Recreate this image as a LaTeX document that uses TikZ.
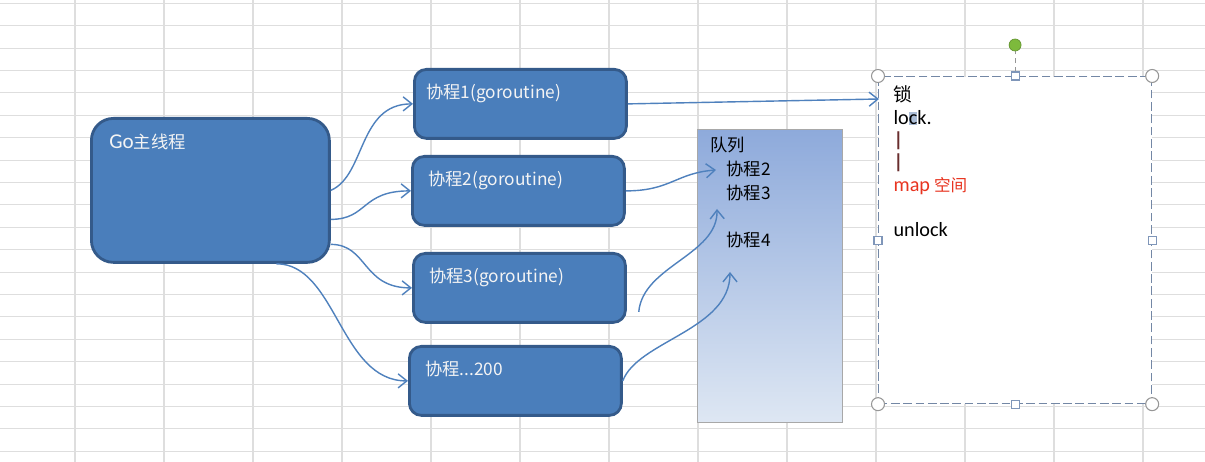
\documentclass[tikz,border=0pt]{standalone}
\definecolor{boxblue}{RGB}{74, 126, 187}
\definecolor{boxedge}{RGB}{52, 90, 138}
\definecolor{linkblue}{RGB}{79, 129, 189}
\definecolor{boxtext}{RGB}{244, 244, 244}
\definecolor{queuetop}{RGB}{142, 170, 219}
\definecolor{queuebottom}{RGB}{222, 231, 243}
\definecolor{queueedge}{RGB}{168, 168, 168}
\definecolor{lockedge}{RGB}{115, 135, 165}
\definecolor{gridgray}{RGB}{222, 222, 222}
\definecolor{mapred}{RGB}{232, 52, 32}
\definecolor{barred}{RGB}{105, 45, 45}
\definecolor{handlegray}{RGB}{150, 150, 150}
\definecolor{gripblue}{RGB}{127, 150, 185}
\definecolor{rotgreen}{RGB}{125, 186, 60}
\definecolor{selblue}{RGB}{172, 190, 215}
\usepackage{fontspec}
\setmainfont{Carlito}
\newfontfamily\cjk[Scale=0.82]{Noto Sans CJK SC}
\usepackage{tikz}
\usetikzlibrary{arrows.meta, positioning}
\tikzset{
  task/.style={draw=boxedge, fill=boxblue, line width=1.6pt, rounded corners=0.24cm, anchor=north west,
    inner xsep=0.24cm, inner ysep=0pt, text=boxtext, align=left, text width=3.76cm,
    text height=0.58cm, text depth=0.8cm, font=\fontsize{12}{14}\selectfont},
  link/.style={draw=linkblue, line width=0.8pt, -{Straight Barb[length=5pt,width=8pt]}},
  grid line/.style={draw=gridgray, line width=0.6pt},
  handle/.style={draw=handlegray, fill=white, line width=0.6pt},
  grip/.style={draw=gripblue, fill=white, line width=0.6pt}
}

\begin{document}
\begin{tikzpicture}[x=0.02cm, y=-0.02cm]
  \useasboundingbox (0,0) rectangle (1205,462);
  \fill[white] (0,0) rectangle (1205,462);
  \foreach \gx in {75,164,...,1143} \draw[grid line] (\gx,0) -- (\gx,462);
  \foreach \gy in {3.3,25.7,...,462} \draw[grid line] (0,\gy) -- (1205,\gy);

  \node[task, rounded corners=0.44cm, inner xsep=0.36cm, text width=4.04cm, text height=0.6cm, text depth=2.28cm] (main) at (90,117) {Go\cjk{主线程}};
  \node[task] (co1) at (413,68) {\cjk{协程}1(goroutine)};
  \node[task, inner xsep=0.32cm, text width=3.6cm] (co2) at (411,155) {\cjk{协程}2(goroutine)};
  \node[task, inner xsep=0.32cm, text width=3.6cm] (co3) at (412,252) {\cjk{协程}3(goroutine)};
  \node[task, inner xsep=0.32cm, text width=3.6cm] (co200) at (408,345) {\cjk{协程}...200};

  \node[anchor=north west, draw=queueedge, line width=0.6pt, top color=queuetop, bottom color=queuebottom,
    inner xsep=0.26cm, inner ysep=0pt, align=left, text width=2.38cm, text height=0.44cm, text depth=5.42cm,
    font=\fontsize{12}{13.6}\selectfont] (queue) at (697,129) {
    \cjk{队列}\\
    \hspace*{0.32cm}\cjk{协程}2\\
    \hspace*{0.32cm}\cjk{协程}3\\[13.4pt]
    \hspace*{0.32cm}\cjk{协程}4
  };

  \node[anchor=north west, draw=lockedge, dash pattern=on 5pt off 2pt, fill=white, line width=0.7pt,
    inner xsep=0.3cm, inner ysep=0pt, align=left, text width=4.86cm, text height=0.5cm, text depth=6.04cm,
    font=\fontsize{11.5}{12.75}\selectfont] (lock) at (878,76) {
    {\cjk\fontsize{13}{12.75}\selectfont 锁}\\
    lo{\setlength{\fboxsep}{0pt}\colorbox{selblue}{\rule[-0.5pt]{0pt}{7.5pt}c}}k.\\
    \textcolor{barred}{\textbf{|}}\\
    \textcolor{barred}{\textbf{|}}\\
    \textcolor{mapred}{map\hspace{0.2em}\cjk{空间}}\\[12.75pt]
    unlock
  };
  \draw[densely dashed, draw=handlegray, line width=0.6pt] (lock.north) ++(0,-4) -- ++(0,-21);
  \filldraw[draw=rotgreen!80!black, fill=rotgreen, line width=0.4pt] (lock.north) ++(0,-31) circle (0.12cm);
  \foreach \a in {north west, north east, south west, south east}
    \draw[handle] (lock.\a) circle (0.13cm);
  \foreach \a in {north, south, east, west}
    \draw[grip] (lock.\a) ++(-4,-4) rectangle ++(8,8);

  \coordinate (in2) at ([shift={(19,41)}]queue.north west);
  \coordinate (in3) at ([shift={(20,80)}]queue.north west);
  \coordinate (in4) at ([shift={(33,143)}]queue.north west);
  \coordinate (from3) at ([shift={(12,24)}]co3.east);
  \coordinate (lockin) at ([shift={(1,23)}]lock.north west);

  \draw[link] (main.east) .. controls +(35,-15) and +(-55,0) .. (co1.west);
  \draw[link] ([yshift=-0.58cm]main.east) .. controls +(37,0) and +(-50,0) .. (co2.west);
  \draw[link] ([yshift=-1.08cm]main.east) .. controls +(37,0) and +(-50,0) .. (co3.west);
  \draw[link] ([xshift=1.32cm]main.south) .. controls +(60,0) and +(-68,0) .. (co200.west);
  \draw[link] (co1.east) -- (lockin);
  \draw[link] (co2.east) .. controls +(45,0) and +(-40,3) .. (in2);
  \draw[link] (from3) .. controls +(4,-46) and +(1,46) .. (in3);
  \draw[link] (co200.east) .. controls +(15,-40) and +(0,58) .. (in4);
\end{tikzpicture}
\end{document}
